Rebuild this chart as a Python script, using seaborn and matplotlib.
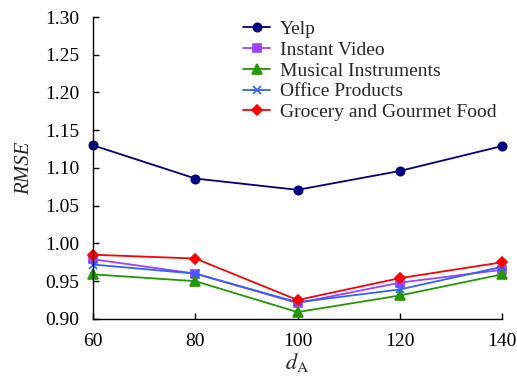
import matplotlib
matplotlib.use("Agg")
import matplotlib.pyplot as plt
import seaborn as sns
import pandas as pd

# values
dims = [60, 80, 100, 120, 140]
yelp = [1.130, 1.086, 1.071, 1.096, 1.129]
instant_video = [0.979, 0.960, 0.921, 0.948, 0.965]
musical = [0.959, 0.950, 0.909, 0.931, 0.959]
office = [0.972, 0.960, 0.922, 0.939, 0.969]
grocery = [0.985, 0.980, 0.925, 0.954, 0.975]

series_names = ["Yelp", "Instant Video", "Musical Instruments",
                "Office Products", "Grocery and Gourmet Food"]
series_values = [yelp, instant_video, musical, office, grocery]

rows = []
for name, vals in zip(series_names, series_values):
    for d, v in zip(dims, vals):
        rows.append({"dA": d, "RMSE": v, "Dataset": name})
df = pd.DataFrame(rows)

sns.set_style("ticks")
plt.rcParams["font.family"] = ["Liberation Serif", "DejaVu Serif"]
plt.rcParams["mathtext.fontset"] = "stix"

colors = ["#000080", "#A040FF", "#229900", "#3060FF", "#FF0000"]
markers = ["o", "s", "^", "x", "D"]
msizes = [6, 6, 7, 6, 5.5]

fig = plt.figure(figsize=(5.17, 3.87), dpi=100)
ax = fig.add_axes([0.180, 0.176, 0.791, 0.780])

for name, c, m, ms in zip(series_names, colors, markers, msizes):
    sub = df[df["Dataset"] == name]
    sns.lineplot(data=sub, x="dA", y="RMSE", ax=ax, color=c, marker=m,
                 markersize=ms, markeredgecolor=c, markeredgewidth=1.2,
                 linewidth=1.3, label=name)

ax.set_xlim(60, 140)
ax.set_ylim(0.90, 1.30)
ax.set_xticks(dims)
ax.set_yticks([0.90, 0.95, 1.00, 1.05, 1.10, 1.15, 1.20, 1.25, 1.30])
ax.yaxis.set_major_formatter(matplotlib.ticker.FormatStrFormatter("%.2f"))
ax.tick_params(direction="in", labelsize=14, length=4, width=1,
               colors="black", pad=10)
for sp in ["top", "right"]:
    ax.spines[sp].set_visible(False)
for sp in ["left", "bottom"]:
    ax.spines[sp].set_linewidth(1.0)
    ax.spines[sp].set_color("black")

ax.set_xlabel(r"$d_\mathrm{A}$", fontsize=16, labelpad=1)
ax.set_ylabel("RMSE", fontsize=15, fontstyle="italic", labelpad=8)

ax.legend(loc="upper left", bbox_to_anchor=(0.367, 0.988), frameon=False,
          fontsize=14, handlelength=1.4, labelspacing=0.16, handletextpad=0.5,
          borderaxespad=0, borderpad=0)
for ln in ax.lines:
    ln.set_clip_on(False)

fig.savefig("out.png", dpi=100)
